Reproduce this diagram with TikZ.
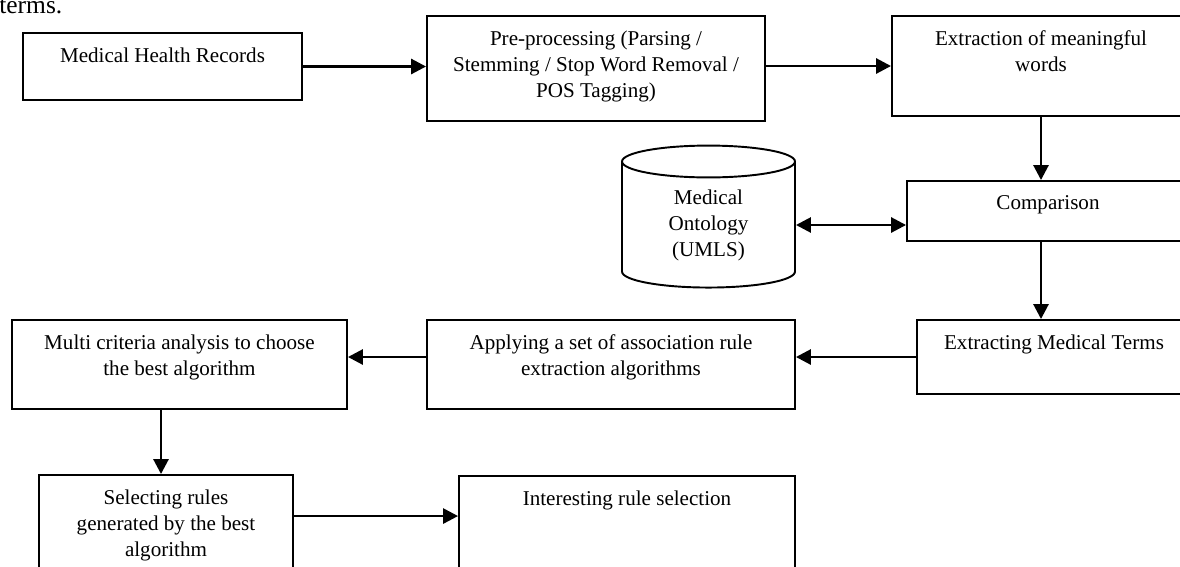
\documentclass[tikz,border=0pt]{standalone}
\usepackage{fontspec}
\setmainfont{Liberation Serif}
\usetikzlibrary{positioning,shapes.geometric,arrows.meta}

\tikzset{
  box/.style={draw, line width=1.1pt, rectangle, inner sep=0pt},
  txt/.style={inner sep=0pt, align=center, font=\fontsize{12}{14.8}\selectfont},
  flow/.style={-{Triangle[length=0.3cm, width=0.3cm]}, line width=1.6pt},
  both/.style={{Triangle[length=0.3cm, width=0.3cm]}-{Triangle[length=0.3cm, width=0.3cm]}, line width=1.6pt},
}

\begin{document}
\begin{tikzpicture}[x=0.02cm, y=-0.02cm]
  \useasboundingbox (0,0) rectangle (1180,566);
  \clip (0,0) rectangle (1180,566);

  % texte coupé en haut
  \node[inner sep=0pt, anchor=base west, font=\fontsize{14.5}{16}\selectfont] (cut) at (-1,13) {terms.};

  % boites
  \node[box, minimum width=5.58cm, minimum height=1.34cm] (mhr) at (162.5,66.5) {};
  \node[box, minimum width=6.76cm, minimum height=2.10cm] (pre) at (596,68.5) {};
  \node[box, minimum width=5.96cm, minimum height=2.00cm] (ext) at (1041,66) {};
  \node[box, minimum width=5.64cm, minimum height=1.20cm] (cmp) at (1048,211) {};
  \node[box, minimum width=5.48cm, minimum height=1.48cm] (emt) at (1054,357) {};
  \node[box, minimum width=7.36cm, minimum height=1.78cm] (arm) at (611,364.5) {};
  \node[box, minimum width=6.70cm, minimum height=1.78cm] (mca) at (179.5,364.5) {};
  \node[box, minimum width=5.08cm, minimum height=2.50cm] (sel) at (166,537.5) {};
  \node[box, minimum width=6.72cm, minimum height=2.48cm] (irs) at (627,538) {};

  % ontologie
  \node[draw, line width=1.1pt, cylinder, shape border rotate=90, aspect=0.4,
        minimum width=3.46cm, minimum height=2.84cm, txt] (ont) at (708.5,225)
        {Medical\\Ontology\\(UMLS)};

  % textes
  \node[txt, below=0.3cm of mhr.north] (mhr-t) {Medical Health Records};
  \node[txt, below=0.3cm of pre.north] (pre-t) {Pre-processing (Parsing /\\Stemming / Stop Word Removal /\\POS Tagging)};
  \node[txt, below=0.3cm of ext.north] (ext-t) {Extraction of meaningful\\words};
  \node[txt, below=0.3cm of cmp.north] (cmp-t) {Comparison};
  \node[txt, below=0.3cm of emt.north] (emt-t) {Extracting Medical Terms};
  \node[txt, below=0.3cm of arm.north] (arm-t) {Applying a set of association rule\\extraction algorithms};
  \node[txt, below=0.3cm of mca.north] (mca-t) {Multi criteria analysis to choose\\the best algorithm};
  \node[txt, below=0.3cm of sel.north] (sel-t) {Selecting rules\\generated by the best\\algorithm};
  \node[txt, below=0.3cm of irs.north] (irs-t) {Interesting rule selection};

  % fleches
  \draw[flow] (mhr.east) -- (mhr.east -| pre.west);
  \draw[flow] (ext.west -| pre.east) -- (ext.west);
  \draw[flow] (ext.south) -- (ext.south |- cmp.north);
  \draw[both] (ont.east) -- (ont.east -| cmp.west);
  \draw[flow] (ext.south |- cmp.south) -- (ext.south |- emt.north);
  \draw[flow] (emt.west) -- (emt.west -| arm.east);
  \draw[flow] (emt.west -| arm.west) -- (emt.west -| mca.east);
  \coordinate (mca-o) at ([xshift=-0.1cm]sel.north);
  \draw[flow] (mca-o |- mca.south) -- (mca-o);
  \coordinate (sel-o) at ([yshift=-0.84cm]sel.north east);
  \draw[flow] (sel-o) -- (sel-o -| irs.west);
\end{tikzpicture}
\end{document}
